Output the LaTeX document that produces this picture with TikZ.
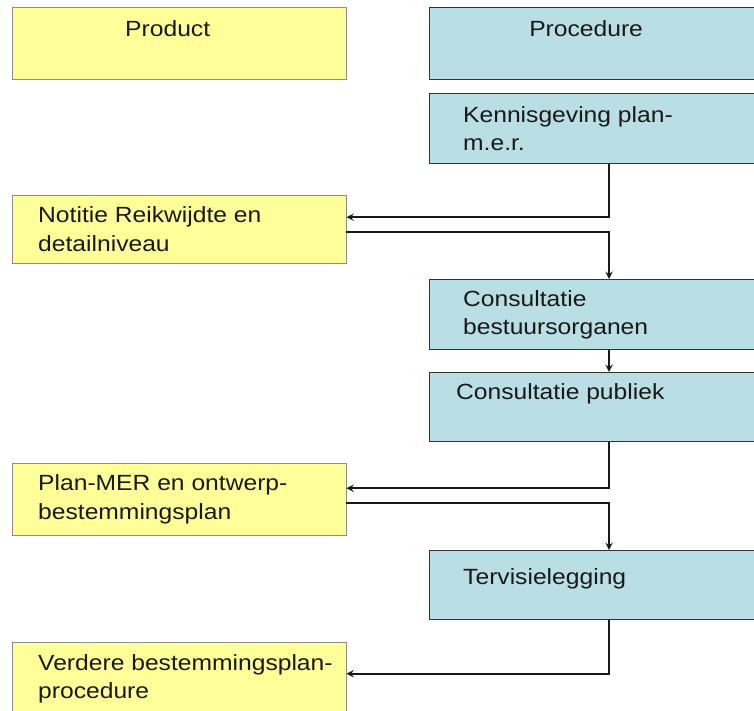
\documentclass[tikz,border=0pt]{standalone}
\usepackage{fontspec}
\setmainfont[FakeStretch=1.12]{Liberation Sans}
\usepackage{tikz}
\usetikzlibrary{positioning,arrows}
\definecolor{prodyellow}{RGB}{255,255,153}
\definecolor{procblue}{RGB}{185,222,228}
\tikzstyle{product}   = [rectangle, anchor=north west, minimum width=334pt, minimum height=70pt, inner sep=0pt, draw=black!45, fill=prodyellow]
\tikzstyle{procedure} = [rectangle, anchor=north west, minimum width=334pt, minimum height=70pt, inner sep=0pt, draw=black!80, line width=1.2pt, fill=procblue]
\tikzstyle{txt}       = [inner sep=0pt, align=left, font=\fontsize{22}{28.5}\selectfont, text=black!90]
\tikzstyle{arrow}     = [line width=2.2pt, ->, >=stealth, draw=black!90]
\begin{document}
\begin{tikzpicture}[x=1pt, y=-1pt]
		\useasboundingbox (0,0) rectangle (754,711);
		\clip (0,0) rectangle (754,711);
		\fill[white] (0,0) rectangle (754,711);
		\coordinate (spine) at (609,0);
		% product column
		\node[product, minimum height=72pt] (prod) at (12,7) {};
		\node[product, minimum height=68pt] (notitie) at (12,195) {};
		\node[product, minimum height=72pt] (plan) at (12,463) {};
		\node[product, minimum height=73pt] (verdere) at (12,642) {};
		% procedure column
		\node[procedure, minimum height=72pt] (proc) at (429,7) {};
		\node[procedure] (kenn) at (429,93) {};
		\node[procedure] (cons1) at (429,279) {};
		\node[procedure, minimum height=69pt] (cons2) at (429,372) {};
		\node[procedure, minimum height=69pt] (terv) at (429,550) {};
		% texts
		\node[txt, below=13pt of prod.north, xshift=-11.5pt] (prodTxt) {Product};
		\node[txt, below=13pt of proc.north, xshift=-10.5pt] (procTxt) {Procedure};
		\node[txt, right=34pt of kenn.west] (kennTxt) {Kennisgeving plan-\\m.e.r.};
		\node[txt, right=26pt of notitie.west] (notitieTxt) {Notitie Reikwijdte en\\detailniveau};
		\node[txt, right=34pt of cons1.west] (cons1Txt) {Consultatie\\bestuursorganen};
		\node[txt, below right=11pt and 27pt of cons2.north west] (cons2Txt) {Consultatie publiek};
		\node[txt, right=26pt of plan.west] (planTxt) {Plan-MER en ontwerp-\\bestemmingsplan};
		\node[txt, right=34pt of terv.west, yshift=6pt] (tervTxt) {Tervisielegging};
		\node[txt, right=26pt of verdere.west] (verdereTxt) {Verdere bestemmingsplan-\\procedure};
		% connectors
		\draw[arrow] (kenn.south -| spine) |- ([yshift=12pt]notitie.east);
		\draw[arrow] ([yshift=-3pt]notitie.east) -| (cons1.north -| spine);
		\draw[arrow] (cons1.south -| spine) -- (cons2.north -| spine);
		\draw[arrow] (cons2.south -| spine) |- ([yshift=11pt]plan.east);
		\draw[arrow] ([yshift=-4pt]plan.east) -| (terv.north -| spine);
		\draw[arrow] (terv.south -| spine) |- ([yshift=5pt]verdere.east);
	\end{tikzpicture}
\end{document}
